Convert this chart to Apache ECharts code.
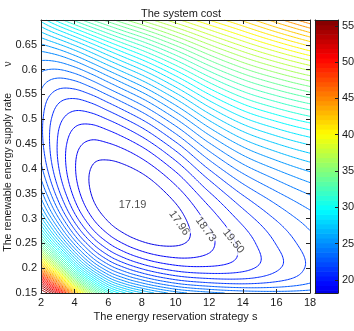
<!DOCTYPE html>
<html>
<head>
<meta charset="utf-8">
<title>The system cost</title>
<script src="https://cdn.jsdelivr.net/npm/echarts@6/dist/echarts.min.js"></script>
<style>
html, body { margin: 0; padding: 0; background: #fff; }
#chart { width: 354px; height: 331px; }
</style>
</head>
<body>
<div id="chart"></div>
<script>
// energy reservation strategy s (columns of the cost table)
var sKnots = [2, 3, 4, 5, 6, 7, 8, 10, 12, 14, 16, 18];
// renewable energy supply rate v (rows of the cost table)
var vKnots = [0.15, 0.175, 0.2, 0.25, 0.3, 0.35, 0.4, 0.45, 0.5, 0.55, 0.6, 0.65, 0.7];

// system cost estimated from the contours, one row per v
var cost_v015  = [55.80, 52.00, 43.50, 36.00, 31.20, 28.80, 27.30, 25.30, 24.39, 23.90, 23.70, 23.80];
var cost_v0175 = [51.50, 44.50, 36.00, 30.30, 26.60, 24.72, 23.51, 21.99, 21.40, 21.28, 21.69, 22.39];
var cost_v020  = [44.50, 37.50, 30.50, 26.00, 23.35, 21.89, 20.93, 19.87, 19.67, 20.01, 20.91, 22.00];
var cost_v025  = [33.50, 28.10, 23.90, 21.15, 19.55, 18.63, 18.09, 17.85, 18.55, 19.77, 21.08, 22.27];
var cost_v030  = [27.47, 23.59, 20.69, 18.84, 17.83, 17.32, 17.13, 17.61, 19.01, 20.56, 21.90, 22.99];
var cost_v035  = [24.47, 21.41, 19.25, 17.94, 17.35, 17.17, 17.27, 18.32, 20.16, 21.90, 23.20, 24.19];
var cost_v040  = [22.82, 20.41, 18.80, 17.93, 17.68, 17.79, 18.17, 19.68, 21.86, 23.71, 24.95, 25.88];
var cost_v045  = [22.10, 20.21, 19.03, 18.56, 18.67, 19.07, 19.70, 21.61, 24.00, 25.92, 27.15, 28.05];
var cost_v050  = [22.03, 20.56, 19.84, 19.83, 20.31, 21.00, 21.84, 24.05, 26.56, 28.51, 29.75, 30.70];
var cost_v055  = [22.44, 21.51, 21.36, 21.84, 22.67, 23.60, 24.60, 26.99, 29.50, 31.43, 32.74, 33.81];
var cost_v060  = [23.50, 23.32, 23.79, 24.70, 25.79, 26.89, 27.98, 30.39, 32.79, 34.67, 36.10, 37.34];
var cost_v065  = [25.56, 26.27, 27.29, 28.49, 29.73, 30.89, 31.98, 34.23, 36.39, 38.19, 39.79, 41.28];
var cost_v070  = [29.00, 30.60, 32.00, 33.30, 34.50, 35.61, 36.58, 38.50, 40.30, 41.99, 43.80, 45.58];
var costRows = [cost_v015, cost_v0175, cost_v020, cost_v025, cost_v030, cost_v035, cost_v040,
                cost_v045, cost_v050, cost_v055, cost_v060, cost_v065, cost_v070];

// contour levels: first level and spacing as printed on the labels
var levelFirst = 17.19, levelStep = 0.77, levelCount = 50;

// labelled contours
var labelText  = ['17.19', '17.96', '18.73', '19.50'];
var labelS     = [7.45, 10.21, 11.80, 13.44];
var labelV     = [0.327, 0.291, 0.278, 0.2545];
var labelAngle = [0, -55, -54, -52];

// colour bar range and ticks
var barMin = 18.2, barMax = 55.8;
var barTicks = [20, 25, 30, 35, 40, 45, 50, 55];

var font = "'Liberation Sans', Arial, Helvetica, sans-serif";
var textColour = '#1a1a1a';

/**
 * 斜率: parabola through neighbouring knots
 */
function slopes(xs, ys) {
	var n = xs.length, h = [], d = [], m = [];
	for (var i = 0; i < n - 1; i++) {
		h[i] = xs[i + 1] - xs[i];
		d[i] = (ys[i + 1] - ys[i]) / h[i];
	}
	m[0] = ((2 * h[0] + h[1]) * d[0] - h[0] * d[1]) / (h[0] + h[1]);
	for (i = 1; i < n - 1; i++) {
		m[i] = (h[i - 1] * d[i] + h[i] * d[i - 1]) / (h[i - 1] + h[i]);
	}
	var k = n - 2;
	m[n - 1] = ((2 * h[k] + h[k - 1]) * d[k] - h[k] * d[k - 1]) / (h[k] + h[k - 1]);
	return m;
}

function hermite(xs, ys, ms, x) {
	var i = 0;
	while (i < xs.length - 2 && x > xs[i + 1]) i++;
	var h = xs[i + 1] - xs[i], t = (x - xs[i]) / h, t2 = t * t, t3 = t2 * t;
	return (2 * t3 - 3 * t2 + 1) * ys[i] + (t3 - 2 * t2 + t) * h * ms[i]
		+ (-2 * t3 + 3 * t2) * ys[i + 1] + (t3 - t2) * h * ms[i + 1];
}

// sample the table on a fine mesh (about 1.5px) for contouring
var NS = 181, NV = 185;
var sFine = [], vFine = [];
for (var i = 0; i < NS; i++) sFine.push(2 + 16 * i / (NS - 1));
for (var j = 0; j < NV; j++) vFine.push(0.15 + 0.55 * j / (NV - 1));

var lnV = vKnots.map(Math.log);
var rowsFine = costRows.map(function (row) {
	var m = slopes(sKnots, row);
	return sFine.map(function (s) { return hermite(sKnots, row, m, s); });
});
var Z = [];
for (j = 0; j < NV; j++) Z.push(new Array(NS));
for (i = 0; i < NS; i++) {
	var col = rowsFine.map(function (r) { return r[i]; });
	var mc = slopes(lnV, col);
	for (j = 0; j < NV; j++) Z[j][i] = hermite(lnV, col, mc, Math.log(vFine[j]));
}

/**
 * marching squares, segments joined into polylines
 */
function contourLines(level) {
	var pts = new Map(), segs = [];
	function edge(key, i0, j0, i1, j1) {
		if (!pts.has(key)) {
			var z0 = Z[j0][i0], z1 = Z[j1][i1], t = (level - z0) / (z1 - z0);
			pts.set(key, [sFine[i0] + t * (sFine[i1] - sFine[i0]), vFine[j0] + t * (vFine[j1] - vFine[j0])]);
		}
		return key;
	}
	for (var j = 0; j < NV - 1; j++) {
		for (var i = 0; i < NS - 1; i++) {
			var a = Z[j][i] > level, b = Z[j][i + 1] > level,
				c = Z[j + 1][i + 1] > level, d = Z[j + 1][i] > level;
			if (a === b && b === c && c === d) continue;
			var cr = {}, n = 0;
			if (a !== b) { cr.b = edge((j * NS + i) * 2, i, j, i + 1, j); n++; }
			if (b !== c) { cr.r = edge((j * NS + i + 1) * 2 + 1, i + 1, j, i + 1, j + 1); n++; }
			if (d !== c) { cr.t = edge(((j + 1) * NS + i) * 2, i, j + 1, i + 1, j + 1); n++; }
			if (a !== d) { cr.l = edge((j * NS + i) * 2 + 1, i, j, i, j + 1); n++; }
			if (n === 2) {
				var ks = Object.keys(cr);
				segs.push([cr[ks[0]], cr[ks[1]]]);
			} else if (n === 4) {
				var centre = (Z[j][i] + Z[j][i + 1] + Z[j + 1][i + 1] + Z[j + 1][i]) / 4 > level;
				if (centre === a) {
					segs.push([cr.b, cr.r]); segs.push([cr.t, cr.l]);
				} else {
					segs.push([cr.l, cr.b]); segs.push([cr.r, cr.t]);
				}
			}
		}
	}
	var adj = new Map();
	segs.forEach(function (sg, k) {
		if (!adj.has(sg[0])) adj.set(sg[0], []);
		if (!adj.has(sg[1])) adj.set(sg[1], []);
		adj.get(sg[0]).push(k);
		adj.get(sg[1]).push(k);
	});
	var used = [], lines = [];
	function walk(key) {
		var line = [pts.get(key)], cur = key;
		while (true) {
			var list = adj.get(cur), next = -1;
			for (var q = 0; q < list.length; q++) if (!used[list[q]]) { next = list[q]; break; }
			if (next < 0) break;
			used[next] = true;
			cur = segs[next][0] === cur ? segs[next][1] : segs[next][0];
			line.push(pts.get(cur));
		}
		return line;
	}
	adj.forEach(function (list, key) {
		if (list.length === 1 && !used[list[0]]) lines.push(walk(key));
	});
	segs.forEach(function (sg, k) { if (!used[k]) lines.push(walk(sg[0])); });
	return lines;
}

function jet(f) {
	function c(x) { return Math.round(255 * Math.max(0, Math.min(1, x))); }
	return 'rgb(' + c(1.5 - Math.abs(4 * f - 3)) + ',' + c(1.5 - Math.abs(4 * f - 2)) + ',' + c(1.5 - Math.abs(4 * f - 1)) + ')';
}
function colourOf(z) {
	var f = 0.1 + 0.9 * (z - barMin) / (barMax - barMin);
	f = Math.max(0.1, Math.min(1, f));
	var idx = Math.min(63, Math.floor(f * 64));
	return jet((idx + 0.5) / 64);
}

var contourData = [];
for (var k = 1; k < levelCount; k++) { // level 17.19 sits under its label
	var level = levelFirst + k * levelStep;
	var colour = colourOf(level);
	contourData = contourData.concat(contourLines(level).map(function (line) {
		return { coords: line, lineStyle: { color: colour } };
	}));
}

// colour bar: one band per colormap entry
var bands = [], bandColours = [];
for (var idx = 6; idx < 64; idx++) {
	var lo = barMin + (idx / 64 - 0.1) / 0.9 * (barMax - barMin);
	var hi = barMin + ((idx + 1) / 64 - 0.1) / 0.9 * (barMax - barMin);
	bands.push([Math.max(barMin, lo), Math.min(barMax, hi)]);
	bandColours.push(jet((idx + 0.5) / 64));
}

function frameAxis(grid, pos, extra) {
	var ax = {
		gridIndex: grid, type: 'value', position: pos, z: 10,
		axisLine: { show: true, onZero: false, lineStyle: { color: '#222', width: 1 } },
		axisTick: { show: false },
		axisLabel: { show: false },
		splitLine: { show: false }
	};
	for (var key in extra) ax[key] = extra[key];
	return ax;
}
var tickStyle = { show: true, inside: true, length: 4, lineStyle: { color: '#222', width: 1 } };

var option = {
	animation: false,
	backgroundColor: '#fff',
	title: {
		text: 'The system cost', left: 176, top: 3, textAlign: 'center',
		textStyle: { fontSize: 11, fontWeight: 'normal', color: textColour, fontFamily: font }
	},
	grid: [
		{ left: 41, top: 20, width: 269, height: 273, containLabel: false, outerBoundsMode: 'none' },
		{ left: 315, top: 20, width: 23, height: 273, containLabel: false, outerBoundsMode: 'none' }
	],
	xAxis: [
		frameAxis(0, 'bottom', {
			min: 2, max: 18, interval: 2, axisTick: tickStyle,
			axisLabel: { show: true, color: textColour, fontSize: 11, fontFamily: font, margin: 4 },
			name: 'The energy reservation strategy s', nameLocation: 'middle', nameGap: 18,
			nameMoveOverlap: false,
			nameTextStyle: { color: textColour, fontSize: 11, fontFamily: font }
		}),
		frameAxis(0, 'top', { min: 2, max: 18, interval: 2, axisTick: tickStyle }),
		frameAxis(1, 'bottom', { min: 0, max: 1 }),
		frameAxis(1, 'top', { min: 0, max: 1 })
	],
	yAxis: [
		frameAxis(0, 'left', {
			min: 0.15, max: 0.7, interval: 0.05, axisTick: tickStyle,
			axisLabel: {
				show: true, color: textColour, fontSize: 11, fontFamily: font, margin: 4, showMaxLabel: false,
				formatter: function (v) { return String(Math.round(v * 100) / 100); }
			},
			name: 'The renewable energy supply rate         \u03bd', nameLocation: 'middle', nameGap: 27,
			nameMoveOverlap: false,
			nameTextStyle: { color: textColour, fontSize: 10.5, fontFamily: font }
		}),
		frameAxis(0, 'right', { min: 0.15, max: 0.7, interval: 0.05, axisTick: tickStyle }),
		frameAxis(1, 'left', { min: barMin, max: barMax }),
		frameAxis(1, 'right', {
			min: barMin, max: barMax,
			axisTick: { show: true, inside: true, length: 3, customValues: barTicks, lineStyle: { color: '#222' } },
			axisLabel: { show: true, color: textColour, fontSize: 11, fontFamily: font, margin: 4, customValues: barTicks }
		})
	],
	series: [
		{
			type: 'lines', coordinateSystem: 'cartesian2d', xAxisIndex: 0, yAxisIndex: 0,
			polyline: true, silent: true, z: 2,
			lineStyle: { width: 1, opacity: 1 },
			data: contourData
		},
		{
			type: 'scatter', xAxisIndex: 0, yAxisIndex: 0, symbolSize: 1, silent: true, z: 5,
			itemStyle: { color: 'rgba(0,0,0,0)' },
			label: {
				show: true, position: 'inside', color: textColour, fontSize: 11, fontFamily: font,
				backgroundColor: '#fff', padding: [0, 1]
			},
			data: labelText.map(function (t, n) {
				return { value: [labelS[n], labelV[n]], label: { formatter: t, rotate: labelAngle[n] } };
			})
		},
		{
			type: 'custom', xAxisIndex: 2, yAxisIndex: 2, silent: true, z: 2,
			data: bands,
			renderItem: function (params, api) {
				var p0 = api.coord([0, api.value(0)]), p1 = api.coord([1, api.value(1)]);
				return {
					type: 'rect',
					shape: { x: p0[0], y: p1[1], width: p1[0] - p0[0], height: p0[1] - p1[1] + 0.6 },
					style: { fill: bandColours[params.dataIndex] }
				};
			}
		}
	]
};

var chart = echarts.init(document.getElementById('chart'));
chart.setOption(option);
</script>
</body>
</html>
